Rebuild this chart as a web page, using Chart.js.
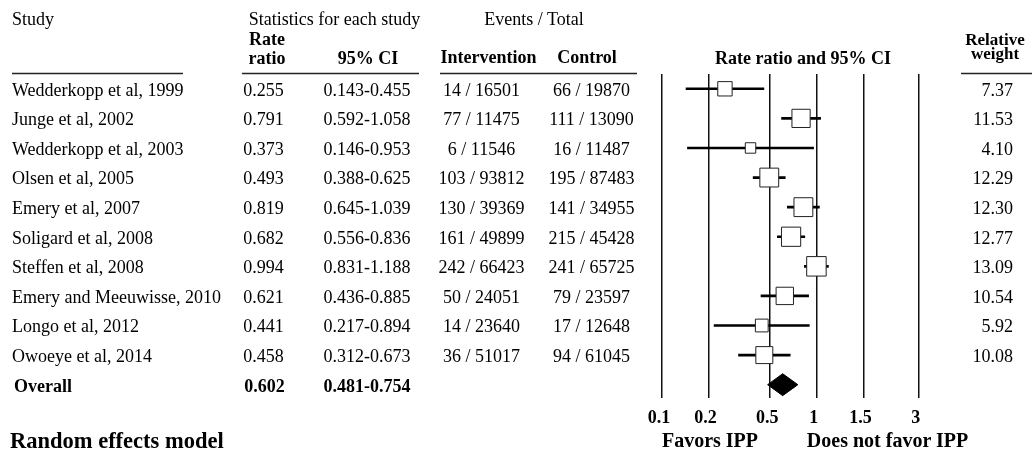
<!DOCTYPE html>
<html><head><meta charset="utf-8">
<script src="https://cdn.jsdelivr.net/npm/chart.js@4.4.1/dist/chart.umd.min.js"></script>
<style>
html,body{margin:0;padding:0;background:#fff;}
#wrap{position:relative;width:1032px;height:456px;overflow:hidden;background:#fff;}
#c{position:absolute;left:0;top:0;}
#t{position:absolute;left:0;top:0;pointer-events:none;}
#t text{font-family:'Liberation Serif','Times New Roman',serif;fill:#000;}
</style></head><body>
<div id="wrap">
<canvas id="c" width="1032" height="456"></canvas>
<svg id="t" width="1032" height="456" xmlns="http://www.w3.org/2000/svg"></svg>
</div>
<script>
// ---- data ----
const studies = ["Wedderkopp et al, 1999","Junge et al, 2002","Wedderkopp et al, 2003","Olsen et al, 2005","Emery et al, 2007","Soligard et al, 2008","Steffen et al, 2008","Emery and Meeuwisse, 2010","Longo et al, 2012","Owoeye et al, 2014"];
const rateRatios = [0.255,0.791,0.373,0.493,0.819,0.682,0.994,0.621,0.441,0.458];
const ciLower = [0.143,0.592,0.146,0.388,0.645,0.556,0.831,0.436,0.217,0.312];
const ciUpper = [0.455,1.058,0.953,0.625,1.039,0.836,1.188,0.885,0.894,0.673];
const interventionEvents = [14,77,6,103,130,161,242,50,14,36];
const interventionTotal = [16501,11475,11546,93812,39369,49899,66423,24051,23640,51017];
const controlEvents = [66,111,16,195,141,215,241,79,17,94];
const controlTotal = [19870,13090,11487,87483,34955,45428,65725,23597,12648,61045];
const weights = [7.37,11.53,4.10,12.29,12.30,12.77,13.09,10.54,5.92,10.08];
const overallLabel = "Overall";
const overallRate = 0.602;
const overallLower = 0.481;
const overallUpper = 0.754;
const tickValues = [0.1,0.2,0.5,1,2,4.55];
const tickLabels = ["0.1","0.2","0.5","1","1.5","3"];

// ---- chart ----
const FONT = "'Liberation Serif','Times New Roman',serif";
const overallRow = studies.length;
const DIAMOND_HALF = 0.37;
const squareRadius = ctx => (5.66 * Math.sqrt(weights[ctx.dataIndex]) - 1) / Math.SQRT2;

new Chart(document.getElementById('c'), {
  type: 'scatter',
  data: {
    datasets: [
      {
        type: 'bar',
        indexAxis: 'y',
        data: ciLower.map((lo, i) => ({ x: [lo, ciUpper[i]], y: i })),
        backgroundColor: '#000',
        borderWidth: 0,
        barThickness: 2,
        order: 3
      },
      {
        type: 'scatter',
        data: rateRatios.map((r, i) => ({ x: r, y: i })),
        pointStyle: 'rect',
        pointRadius: squareRadius,
        pointHoverRadius: squareRadius,
        backgroundColor: '#fff',
        borderColor: '#222',
        borderWidth: 1,
        order: 1
      },
      {
        type: 'line',
        data: [
          { x: overallLower, y: overallRow },
          { x: overallRate, y: overallRow - DIAMOND_HALF },
          { x: overallUpper, y: overallRow },
          { x: overallRate, y: overallRow + DIAMOND_HALF },
          { x: overallLower, y: overallRow }
        ],
        fill: 'shape',
        backgroundColor: '#000',
        borderColor: '#000',
        borderWidth: 1,
        pointRadius: 0,
        tension: 0,
        order: 2
      }
    ]
  },
  options: {
    responsive: false,
    animation: false,
    devicePixelRatio: 1,
    layout: { padding: { left: 662, right: 113.3, top: 74, bottom: 28 } },
    plugins: { legend: { display: false }, tooltip: { enabled: false }, title: { display: false } },
    events: [],
    scales: {
      x: {
        type: 'logarithmic',
        min: 0.1,
        max: 4.55,
        offset: false,
        afterBuildTicks: s => { s.ticks = tickValues.map(v => ({ value: v })); },
        afterFit: s => { s.height = 30; },
        ticks: {
          callback: (v, i) => tickLabels[i],
          autoSkip: false,
          maxRotation: 0,
          padding: 10,
          labelOffset: -3,
          color: '#000',
          font: { family: FONT, size: 18, weight: 'bold' }
        },
        grid: { color: '#111', lineWidth: 1.5, drawTicks: false, offset: false },
        border: { display: false }
      },
      y: {
        type: 'linear',
        min: -0.5,
        max: 10.45,
        reverse: true,
        offset: false,
        grid: { offset: false },
        display: false
      }
    }
  }
});

// ---- table text ----
const svg = document.getElementById('t');
const NS = 'http://www.w3.org/2000/svg';
function txt(x, y, s, anchor, size, weight) {
  const t = document.createElementNS(NS, 'text');
  t.setAttribute('x', x); t.setAttribute('y', y);
  t.setAttribute('text-anchor', anchor || 'start');
  t.setAttribute('font-size', size || 18);
  t.setAttribute('font-weight', weight || 'normal');
  t.textContent = s;
  svg.appendChild(t);
}
function hline(x1, x2, y) {
  const l = document.createElementNS(NS, 'line');
  l.setAttribute('x1', x1); l.setAttribute('x2', x2);
  l.setAttribute('y1', y); l.setAttribute('y2', y);
  l.setAttribute('stroke', '#222'); l.setAttribute('stroke-width', 1.5);
  svg.appendChild(l);
}
// headers
txt(12, 25, 'Study');
txt(334.5, 25, 'Statistics for each study', 'middle');
txt(534, 25, 'Events / Total', 'middle');
txt(267, 45, 'Rate', 'middle', 18, 'bold');
txt(267, 64, 'ratio', 'middle', 18, 'bold');
txt(368, 64, '95% CI', 'middle', 18, 'bold');
txt(488.5, 63, 'Intervention', 'middle', 18, 'bold');
txt(587, 63, 'Control', 'middle', 18, 'bold');
txt(803, 64, 'Rate ratio and 95% CI', 'middle', 18, 'bold');
txt(995, 44.5, 'Relative', 'middle', 17, 'bold');
txt(995, 59, 'weight', 'middle', 17, 'bold');
hline(12, 183, 73.5);
hline(242, 419, 73.5);
hline(440, 637, 73.5);
hline(961, 1032, 73.5);
// rows
const rowY = i => 95.5 + 29.6 * i;
studies.forEach((s, i) => {
  const y = rowY(i);
  txt(12, y, s);
  txt(263.5, y, rateRatios[i].toFixed(3), 'middle');
  txt(367, y, ciLower[i].toFixed(3) + '-' + ciUpper[i].toFixed(3), 'middle');
  txt(481.5, y, interventionEvents[i] + ' / ' + interventionTotal[i], 'middle');
  txt(591.5, y, controlEvents[i] + ' / ' + controlTotal[i], 'middle');
  txt(1013, y, weights[i].toFixed(2), 'end');
});
const oy = rowY(overallRow);
txt(14, oy, overallLabel, 'start', 18, 'bold');
txt(264.5, oy, overallRate.toFixed(3), 'middle', 18, 'bold');
txt(367, oy, overallLower.toFixed(3) + '-' + overallUpper.toFixed(3), 'middle', 18, 'bold');
// footer
txt(10, 448, 'Random effects model', 'start', 22.5, 'bold');
txt(710, 447, 'Favors IPP', 'middle', 20, 'bold');
txt(887.5, 447, 'Does not favor IPP', 'middle', 20, 'bold');
</script>
</body></html>
